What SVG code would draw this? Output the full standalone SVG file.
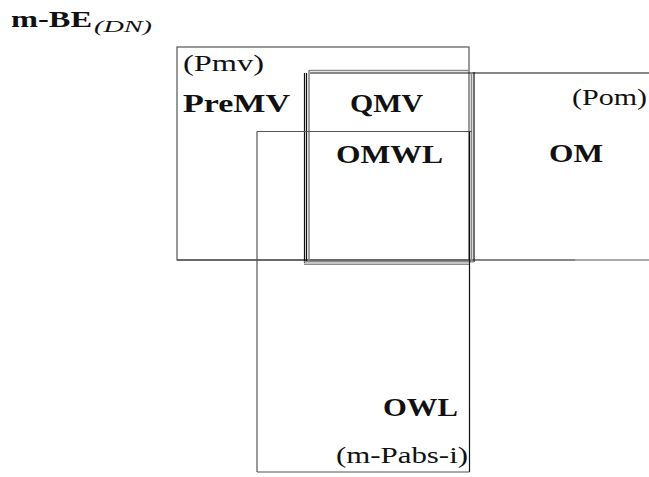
<svg xmlns="http://www.w3.org/2000/svg" width="649" height="477" viewBox="0 0 649 477">
<style>
  .bg{fill:#ffffff}
  .ln{fill:none;stroke:#111;stroke-width:1.2}
  .lg{fill:none;stroke:#555;stroke-width:1.2}
  .gy{fill:none;stroke:#8a8a8a;stroke-width:1.6}
  text{font-family:'Liberation Serif','DejaVu Serif',serif;fill:#111}
  .b{font-weight:bold;font-size:25px}
  .r{font-size:24px}
  .t{font-weight:bold;font-size:23px}
  .s{font-style:italic;font-size:17px}
</style>
<rect class="bg" x="0" y="0" width="649" height="477"/>
<g id="title">
  <text class="t" x="11" y="27" textLength="81" lengthAdjust="spacingAndGlyphs">m-BE</text>
  <text class="s" x="94" y="32" textLength="58" lengthAdjust="spacingAndGlyphs">(DN)</text>
</g>
<g id="connectors">
  <line class="ln" x1="177" y1="260" x2="575" y2="260"/>
  <line class="lg" x1="575" y1="260" x2="649" y2="260"/>
</g>
<g id="Pmv">
  <rect class="lg" x="177" y="47" width="292" height="213"/>
  <text class="r" x="183" y="71" textLength="81" lengthAdjust="spacingAndGlyphs">(Pmv)</text>
  <text class="b" x="183" y="112" textLength="107" lengthAdjust="spacingAndGlyphs">PreMV</text>
</g>
<g id="Pom">
  <line class="ln" x1="310" y1="73" x2="649" y2="73"/>
  <line class="ln" x1="474" y1="72" x2="474" y2="262"/>
  <text class="r" x="572" y="105" textLength="75" lengthAdjust="spacingAndGlyphs">(Pom)</text>
  <text class="b" x="549" y="162" textLength="54" lengthAdjust="spacingAndGlyphs">OM</text>
</g>
<g id="QMV">
  <line class="gy" x1="309" y1="70.5" x2="469" y2="70.5"/>
  <line class="ln" x1="304.5" y1="73" x2="304.5" y2="263"/>
  <line class="ln" x1="306.5" y1="73" x2="306.5" y2="262"/>
  <line class="gy" x1="309" y1="70" x2="309" y2="262"/>
  <line class="gy" x1="471.5" y1="72" x2="471.5" y2="262"/>
  <line class="gy" x1="304" y1="261.8" x2="474" y2="261.8"/>
  <line class="gy" x1="304" y1="264.3" x2="469" y2="264.3"/>
  <text class="b" x="350" y="112" textLength="73" lengthAdjust="spacingAndGlyphs">QMV</text>
  <text class="b" x="336" y="163" textLength="107" lengthAdjust="spacingAndGlyphs">OMWL</text>
</g>
<g id="OWL">
  <line class="lg" x1="257" y1="131.5" x2="472" y2="131.5"/>
  <line class="lg" x1="257" y1="131.5" x2="257" y2="472"/>
  <line class="lg" x1="257" y1="472" x2="469.5" y2="472"/>
  <line class="ln" x1="469.5" y1="131.5" x2="469.5" y2="472"/>
  <text class="b" x="383" y="416" textLength="75" lengthAdjust="spacingAndGlyphs">OWL</text>
  <text class="r" x="336" y="463" textLength="132" lengthAdjust="spacingAndGlyphs">(m-Pabs-i)</text>
</g>
</svg>
